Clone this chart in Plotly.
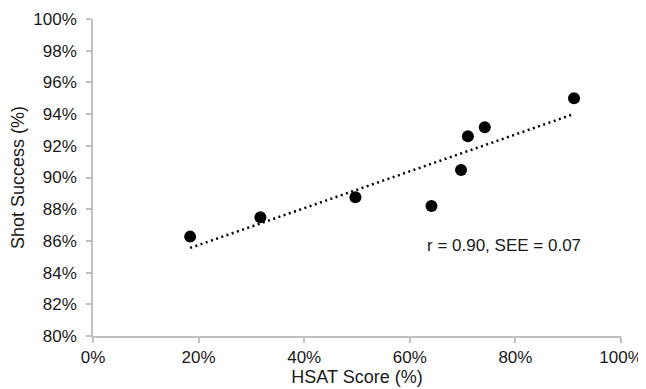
import numpy as np
import plotly.graph_objects as go

# Data (percent)
hsat_score = [18.4, 31.7, 49.7, 64.1, 69.7, 71.0, 74.2, 91.1]
shot_success = [86.27, 87.49, 88.75, 88.2, 90.47, 92.6, 93.17, 95.0]
x_ticks = [0, 20, 40, 60, 80, 100]
y_ticks = [80, 82, 84, 86, 88, 90, 92, 94, 96, 98, 100]
annotation_text = "r = 0.90, SEE = 0.07"

# Linear trendline from the data
slope, intercept = np.polyfit(hsat_score, shot_success, 1)
tx = [min(hsat_score), max(hsat_score)]
ty = [slope * v + intercept for v in tx]

FONT = "Liberation Sans, Arial, sans-serif"
TXT = "#1a1a1a"
AX = "#c0c0c0"

fig = go.Figure()
fig.add_trace(go.Scatter(
    x=tx, y=ty, mode="lines",
    line=dict(color="black", width=2.5, dash="2px,3.5px"),
    showlegend=False, hoverinfo="skip"))
fig.add_trace(go.Scatter(
    x=hsat_score, y=shot_success, mode="markers",
    marker=dict(color="black", size=12),
    showlegend=False))

fig.add_annotation(x=77.8, y=85.74, xref="x", yref="y", text=annotation_text,
                   showarrow=False, font=dict(family=FONT, size=17, color=TXT))

# page body has an 8px default margin, so the figure is sized to fit after it
fig.update_layout(
    width=638, height=381,
    margin=dict(l=85, r=25, t=11, b=53),
    paper_bgcolor="white", plot_bgcolor="white",
    font=dict(family=FONT, color=TXT),
)
fig.update_xaxes(
    range=[0, 100], tickvals=x_ticks, ticktext=[f"{v}%" for v in x_ticks],
    showgrid=False, zeroline=False, showline=True, linecolor=AX, linewidth=1.5,
    ticks="outside", ticklen=5, tickcolor=AX, tickwidth=1.5, automargin=False,
    tickfont=dict(size=17, color=TXT), ticklabelstandoff=0,
    title=dict(text="HSAT Score (%)", font=dict(size=18, color=TXT), standoff=0),
)
fig.update_yaxes(
    range=[80, 100], tickvals=y_ticks, ticktext=[f"{v}%" for v in y_ticks],
    showgrid=False, zeroline=False, showline=True, linecolor=AX, linewidth=1.5,
    ticks="outside", ticklen=5, tickcolor=AX, tickwidth=1.5, automargin=False,
    tickfont=dict(size=17, color=TXT), ticklabelstandoff=6,
    title=dict(text="Shot Success (%)", font=dict(size=18, color=TXT), standoff=4),
)

fig.write_html("out.html")
